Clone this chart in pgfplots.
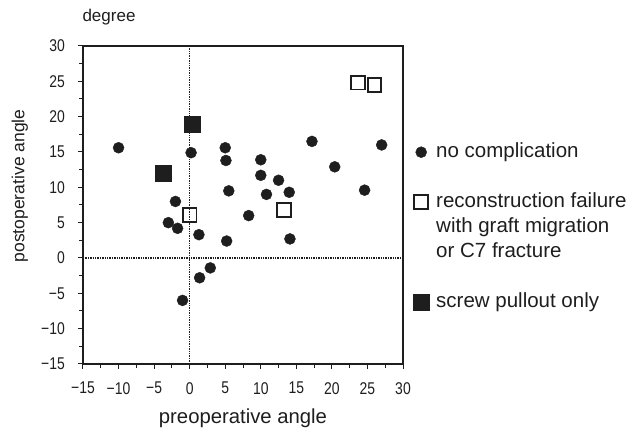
\documentclass[border=0pt]{standalone}
\usepackage{fontspec}
\setmainfont{Liberation Sans}
\newfontfamily\tickfont[FakeStretch=0.82]{Liberation Sans}
\usepackage{pgfplots}
\pgfplotsset{compat=1.18}
\usetikzlibrary{calc}
\definecolor{ink}{HTML}{1E1E1E}

\begin{document}
\begin{tikzpicture}
\begin{axis}[
    name=ax,
    scale only axis,
    width=320pt, height=318pt,
    xmin=-15, xmax=30, ymin=-15, ymax=30,
    xtick={-15,-10,...,30}, ytick={-15,-10,...,30},
    xticklabels={−15,−10,−5,0,5,10,15,20,25,30},
    yticklabels={−15,−10,−5,0,5,10,15,20,25,30},
    minor tick num=1,
    tick align=outside,
    xtick pos=bottom, ytick pos=left,
    major tick length=5pt, minor tick length=4pt,
    tick style={ink, line width=1pt},
    axis line style={ink, line width=1.4pt},
    ticklabel style={font=\tickfont\fontsize{17}{20}\selectfont, text=ink, inner sep=0pt},
    yticklabel style={xshift=-13pt},
    xticklabel style={yshift=-13pt},
    xlabel={preoperative angle},
    ylabel={postoperative angle},
    xlabel style={font=\fontsize{20.3}{24}\selectfont, text=ink, at={(axis description cs:0.5,0)}, anchor=base, yshift=-60pt},
    ylabel style={font=\fontsize{17.5}{21}\selectfont, text=ink, at={(axis description cs:-0.197,0.56)}, anchor=center},
    legend cell align=left,
    legend image code/.code={\draw[#1] plot coordinates {(0pt,0pt)};},
    legend style={draw=none, fill=none, inner sep=0pt,
        at={(rel axis cs:1,1)}, anchor=north west, xshift=10pt, yshift=-97pt,
        font=\fontsize{20.5}{24}\selectfont, text=ink,
        row sep=7pt, column sep=7pt,
        nodes={inner sep=0pt, text height=14pt, text depth=4pt}},
    clip=false,
]
% reference lines at zero
\addplot[forget plot, ink, densely dotted, line width=1.4pt] coordinates {(0,-15) (0,30)};
\addplot[forget plot, ink, densely dotted, line width=1.4pt] coordinates {(-15,0) (30,0)};

% no complication
\addplot[only marks, mark=*, mark size=5.5pt, ink, mark options={fill=ink}] coordinates {
    (-10,15.6) (0.2,14.9) (5.0,15.6) (5.1,13.8) (5.5,9.5) (-2.0,8.0)
    (17.2,16.5) (27.0,16.0) (10.0,13.9) (20.4,12.9) (10.0,11.7) (12.5,11.0)
    (10.8,9.0) (14.0,9.3) (24.6,9.6) (8.3,6.0) (14.1,2.7) (5.2,2.4)
    (-3.0,5.0) (-1.7,4.2) (1.3,3.3) (2.9,-1.4) (1.4,-2.8) (-1.0,-6.0)
};
\addlegendentry{no complication}
\addlegendimage{empty legend}
\addlegendentry{}

% reconstruction failure
\addplot[only marks, mark=square, mark size=6.8pt, ink, mark options={line width=1.9pt, fill=none}] coordinates {
    (0,6.1) (13.3,6.8) (23.7,24.8) (26.0,24.5)
};
\addlegendentry{reconstruction failure}
\addlegendimage{empty legend}
\addlegendentry{with graft migration}
\addlegendimage{empty legend}
\addlegendentry{or C7 fracture}
\addlegendimage{empty legend}
\addlegendentry{}

% screw pullout only
\addplot[only marks, mark=square*, mark size=8pt, ink, mark options={fill=ink, line width=0.8pt}] coordinates {
    (0.4,18.9) (-3.7,12.0)
};
\addlegendentry{screw pullout only}

\node[anchor=base west, font=\fontsize{17}{20}\selectfont, text=ink, xshift=-4pt, yshift=24pt] at (rel axis cs:0,1) {degree};
\end{axis}
\pgfresetboundingbox
\path ($(ax.south west)+(-83pt,-66pt)$) rectangle ($(ax.north east)+(228pt,46pt)$);
\end{tikzpicture}
\end{document}
